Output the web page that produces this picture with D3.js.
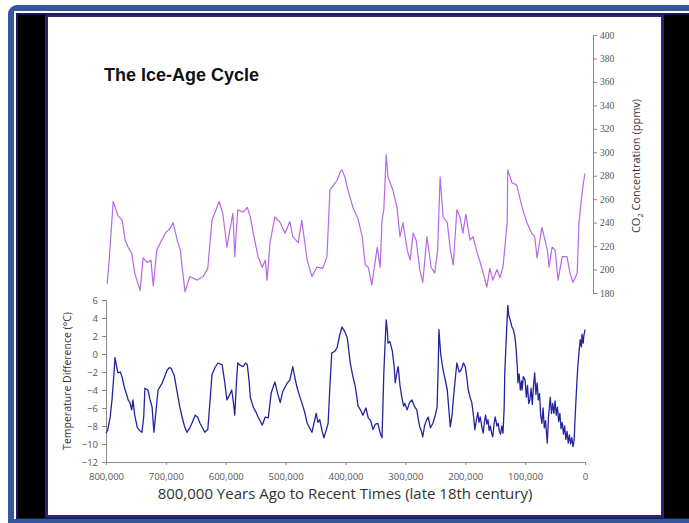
<!DOCTYPE html>
<html><head><meta charset="utf-8">
<script src="https://cdn.jsdelivr.net/npm/d3@7"></script>
<style>
html,body{margin:0;padding:0;background:#fff;}
svg{display:block;}
</style></head>
<body>
<svg id="c" width="689" height="523"></svg>
<script>
// ---- data (ages in thousands of years before present) ----
const co2Age = [798,795,788,780,773,768,763,757,752,743,738,731,725,721,715,707,701,693,688,681,676,671,668,660,648,638,630,623,611,605,598,593,588,585,580,571,564,559,554,546,539,534,531,526,518,509,501,493,488,479,473,464,456,448,438,431,426,414,409,406,401,396,387,379,372,367,362,356,347,342,339,336,332,329,321,314,309,304,297,292,287,282,276,271,264,257,251,246,242,237,230,225,220,214,209,204,199,192,187,180,175,170,164,159,154,147,142,137,130,129,122,114,105,97,89,84,80,72,63,60,55,50,45,38,30,25,20,13,10,5,2,0];
const co2Val = [188,206,258,246,242,225,219,214,197,182,210,206,208,186,217,225,231,235,240,225,217,194,181,194,191,194,201,242,258,248,219,234,248,211,251,249,253,245,231,211,202,208,191,223,245,240,231,241,228,223,242,208,194,202,201,211,268,276,283,285,279,268,252,243,228,204,202,187,219,202,242,251,298,279,268,253,228,240,217,208,231,225,200,189,228,202,197,217,279,245,240,217,204,251,245,231,247,225,228,214,206,197,185,201,191,200,193,202,240,285,274,272,253,240,231,228,210,236,217,202,219,217,191,211,211,197,189,197,240,265,276,282];

const tempAge = [800,797,793,790,787,785,782,780,776,773,770,768,765,763,760,757,755,752,748,744,740,737,735,730,726,723,720,716,713,706,698,694,691,686,681,677,673,669,665,660,656,651,647,643,639,635,630,626,623,618,613,606,602,598,594,590,587,585,582,580,575,571,567,564,561,559,554,550,546,542,539,534,529,524,518,514,509,505,501,497,493,488,485,481,477,473,468,464,460,456,452,449,446,443,439,436,432,429,426,423,418,414,410,406,402,397,392,388,384,381,379,375,371,366,362,358,354,350,346,342,339,336,334,332,330,329,326,322,319,317,314,312,309,306,303,301,297,293,289,285,281,278,276,273,271,268,265,262,258,254,250,247,245,244,241,237,233,230,227,225,222,220,217,214,210,207,203,200,197,195,192,189,186,184,181,179,177,175,172,170,168,166,164,162,160,158,156,154,152,150,147,145,143,141,139,137,135,134,131,129,127,125,122,120,117,115,113,112,110,108,106,105,103,100,98,96,94,92,90,88,86,84,82,80,78,76,74,72,70,68,66,64,63,61,59,58,56,54,52,50,48,46,44,42,40,38,36,34,32,30,28,26,24,22,20,18,17,15,13,12,10,8,6,5,3,2,0];
const tempVal = [-8.8,-8.4,-7.0,-5.1,-2.5,-0.4,-1.5,-2.1,-2.0,-2.6,-3.5,-4.0,-4.6,-5.1,-5.4,-6.2,-5.1,-6.8,-8.1,-8.5,-8.7,-7.0,-3.8,-4.0,-5.2,-5.9,-8.7,-6.0,-4.0,-3.2,-1.8,-1.5,-1.6,-2.4,-4.3,-5.8,-7.0,-8.0,-8.7,-8.2,-7.6,-6.8,-7.0,-7.7,-8.2,-8.7,-8.4,-5.0,-2.3,-1.5,-1.0,-1.2,-3.0,-5.1,-4.6,-4.0,-5.5,-6.8,-3.0,-1.0,-1.3,-1.4,-1.0,-1.2,-3.0,-4.8,-5.9,-6.4,-7.0,-7.5,-7.9,-7.0,-7.1,-4.3,-3.1,-4.2,-5.4,-4.2,-3.7,-3.2,-2.9,-1.4,-2.5,-3.7,-4.6,-5.4,-6.5,-7.7,-8.2,-8.7,-7.5,-6.6,-7.6,-7.3,-8.6,-9.3,-8.4,-7.7,-3.5,0.1,0.3,0.7,2.0,3.0,2.6,1.8,-1.0,-2.4,-3.5,-4.8,-5.8,-6.2,-6.8,-6.0,-7.1,-7.4,-8.4,-7.8,-7.7,-8.8,-9.3,-2.1,1.0,3.8,2.5,1.2,1.4,0.4,-1.2,-3.2,-2.0,-1.4,-3.5,-4.8,-5.8,-5.5,-6.2,-5.4,-5.1,-5.8,-6.2,-7.4,-8.1,-8.6,-9.2,-8.0,-7.4,-7.0,-8.2,-7.7,-6.8,-5.9,-1.0,2.7,0.0,-1.8,-3.0,-4.0,-6.5,-8.1,-6.8,-5.1,-3.0,-1.0,-2.0,-1.8,-1.0,-1.4,-2.8,-4.0,-4.8,-5.4,-7.0,-8.4,-7.2,-6.5,-7.6,-7.0,-8.2,-8.8,-7.5,-6.8,-7.8,-7.3,-8.5,-8.0,-8.8,-9.2,-7.8,-7.0,-8.0,-7.7,-8.6,-8.9,-8.0,-8.8,-6.0,-2.1,2.5,5.4,4.2,3.8,3.0,2.8,1.9,0.5,-1.5,-3.2,-2.2,-4.0,-3.0,-4.0,-2.5,-2.9,-4.8,-3.5,-5.5,-5.1,-3.8,-5.6,-3.5,-2.1,-4.5,-3.2,-5.1,-4.4,-6.8,-7.7,-6.0,-8.2,-7.4,-9.0,-9.9,-7.0,-5.5,-4.8,-6.6,-5.5,-6.6,-5.2,-6.8,-5.9,-7.5,-6.6,-8.3,-7.6,-8.9,-8.0,-9.5,-8.6,-9.9,-9.0,-10.0,-9.3,-10.3,-9.5,-7.7,-5.0,-2.5,-1.4,0.2,1.6,0.8,2.2,1.2,2.0,2.7];

const xTicks = [800000,700000,600000,500000,400000,300000,200000,100000,0];
const tempTicks = [-12,-10,-8,-6,-4,-2,0,2,4,6];
const co2Ticks = [180,200,220,240,260,280,300,320,340,360,380,400];

const titleText = "The Ice-Age Cycle";
const xTitle = "800,000 Years Ago to Recent Times (late 18th century)";
const tempTitle = "Temperature Difference (°C)";

// ---- drawing ----
const svg = d3.select("#c");

// frame
svg.append("rect").attr("x",8).attr("y",5).attr("width",700).attr("height",530).attr("rx",9).attr("fill","#3457a0");
svg.append("rect").attr("x",14).attr("y",11).attr("width",690).attr("height",508).attr("fill","#ffffff");
svg.append("rect").attr("x",16).attr("y",13).attr("width",690).attr("height",506).attr("fill","#1c1a55");
svg.append("rect").attr("x",18).attr("y",15).attr("width",690).attr("height",503).attr("fill","#000000");
svg.append("rect").attr("x",45).attr("y",15).attr("width",619).attr("height",503).attr("fill","#2a2475");
svg.append("rect").attr("x",48).attr("y",17).attr("width",613).attr("height",498).attr("fill","#ffffff");

const x = d3.scaleLinear().domain([800000,0]).range([106,585]);
const yT = d3.scaleLinear().domain([-12,6]).range([462,300]);
const yC = d3.scaleLinear().domain([180,400]).range([293,35]);

const tickFont = "'Open Sans', sans-serif";

function styleAxis(g, size){
  g.selectAll("path").attr("stroke","#8a8a8a").attr("stroke-width",1);
  g.selectAll("line").attr("stroke","#8a8a8a").attr("stroke-width",1);
  g.selectAll("text").attr("fill","#555").style("font-family",tickFont).style("font-size",size);
}

// x axis
const gx = svg.append("g").attr("transform","translate(0,462)")
  .call(d3.axisBottom(x).tickValues(xTicks).tickFormat(d3.format(",")).tickSize(3).tickPadding(8));
styleAxis(gx, "9.5px");

// temperature axis
const gyT = svg.append("g").attr("transform","translate(106,0)")
  .call(d3.axisLeft(yT).tickValues(tempTicks).tickFormat(d => d<0 ? "\u2212"+Math.abs(d) : d).tickSize(4).tickPadding(4));
styleAxis(gyT, "9.5px");

// CO2 axis
const gyC = svg.append("g").attr("transform","translate(593,0)")
  .call(d3.axisRight(yC).tickValues(co2Ticks).tickSize(4).tickPadding(3));
styleAxis(gyC, "9.5px");
gyC.selectAll("text").style("font-family","'Liberation Serif', serif").style("font-size","9.5px");

// lines
const co2Data = co2Age.map((a,i)=>({a:a*1000, v:co2Val[i]}));
const tempData = tempAge.map((a,i)=>({a:a*1000, v:tempVal[i]}));

svg.append("path").datum(co2Data)
  .attr("fill","none").attr("stroke","#b868e4").attr("stroke-width",1.2).attr("stroke-linejoin","round")
  .attr("d", d3.line().x(d=>x(d.a)).y(d=>yC(d.v)));

svg.append("path").datum(tempData)
  .attr("fill","none").attr("stroke","#2424a0").attr("stroke-width",1.3).attr("stroke-linejoin","round")
  .attr("d", d3.line().x(d=>x(d.a)).y(d=>yT(d.v)));

// titles
svg.append("text").attr("x",104).attr("y",81).text(titleText)
  .style("font-family","'Liberation Sans', Arial, sans-serif").style("font-weight","bold").style("font-size","18px").attr("fill","#111");

svg.append("text").attr("x",345).attr("y",499).attr("text-anchor","middle").text(xTitle)
  .style("font-family",tickFont).style("font-size","15px").attr("fill","#333");

svg.append("text").attr("transform","translate(71,381) rotate(-90)").attr("text-anchor","middle").text(tempTitle)
  .style("font-family",tickFont).style("font-size","10.5px").attr("fill","#333");

const co2t = svg.append("text").attr("transform","translate(640,166) rotate(-90)").attr("text-anchor","middle")
  .style("font-family",tickFont).style("font-size","11px").attr("fill","#333");
co2t.append("tspan").text("CO");
co2t.append("tspan").attr("dy",3).style("font-size","7.5px").text("2");
co2t.append("tspan").attr("dy",-3).text(" Concentration (ppmv)");
</script>
</body></html>
